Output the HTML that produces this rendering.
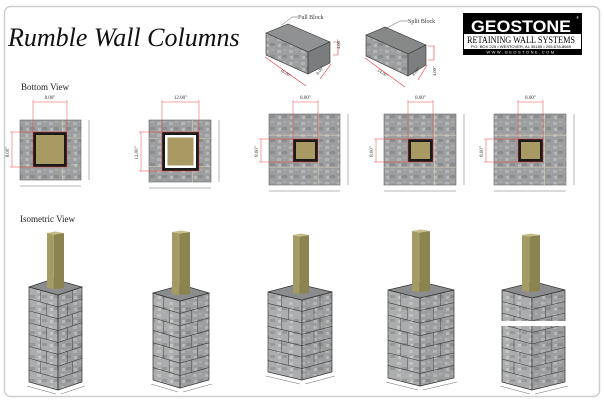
<!DOCTYPE html>
<html><head><meta charset="utf-8"><style>
html,body{margin:0;padding:0;background:#fff;}
svg{display:block;}
</style></head><body>
<svg id="s" width="604" height="403" viewBox="0 0 604 403" xmlns="http://www.w3.org/2000/svg" font-family="Liberation Serif, serif">
<defs>
<pattern id="stone" width="12" height="12" patternUnits="userSpaceOnUse">
<rect width="12" height="12" fill="#9c9e9f"/>
<rect x="1" y="2" width="4" height="3" fill="#b2b4b5"/>
<rect x="6" y="7" width="5" height="3" fill="#8a8c8d"/>
<rect x="7" y="1" width="3" height="2" fill="#a8aaab"/>
<rect x="2" y="8" width="3" height="3" fill="#b7b9b9"/>
</pattern>
<pattern id="stoneL" width="12" height="12" patternUnits="userSpaceOnUse">
<rect width="12" height="12" fill="#abadae"/>
<rect x="1" y="2" width="4" height="3" fill="#c0c2c2"/>
<rect x="6" y="7" width="5" height="3" fill="#979999"/>
<rect x="2" y="8" width="3" height="3" fill="#c4c6c6"/>
</pattern>
</defs>
<rect x="4.5" y="6.5" width="595" height="390" rx="6" fill="#fff" stroke="#cfcfcf" stroke-width="1.5"/>
<text x="8" y="46" font-size="26" font-style="italic" fill="#111">Rumble Wall Columns</text>
<text x="21" y="90" font-size="9" fill="#222">Bottom View</text>
<text x="20" y="222" font-size="9" fill="#222">Isometric View</text>

<!-- blocks -->
<g stroke="#333" stroke-width="0.6">
<polygon points="266,33 288,24 330,42 308,52" fill="#8f9192"/>
<polygon points="266,33 308,52 308,74 266,55" fill="url(#stone)"/>
<polygon points="308,52 330,42 330,63 308,74" fill="#7a7c7d"/>
<polygon points="366,35 385,27 426,45 408,54" fill="#878989"/>
<polygon points="366,35 408,54 408,76 366,56" fill="url(#stone)"/>
<polygon points="408,54 426,45 426,65 408,76" fill="#7c7e7f"/>
</g>
<g stroke="#e33" stroke-width="0.6" fill="none">
<path d="M265,57 L306,86 M331,64 L320,79 M333,42 L338,42 L338,55 L333,55"/>
<path d="M365,58 L405,87 M427,65 L418,80 M428,46 L434,46 L434,60 L428,60"/>
</g>
<g font-size="4.5" fill="#333">
<text x="280" y="71" transform="rotate(33 280 71)">16.00"</text>
<text x="318" y="75" transform="rotate(-50 318 75)">8.00"</text>
<text x="340" y="49" transform="rotate(-90 340 49)">4.00"</text>
<text x="377" y="71" transform="rotate(33 377 71)">14.00"</text>
<text x="414" y="76" transform="rotate(-50 414 76)">8.00"</text>
<text x="436" y="76" transform="rotate(-90 436 76)">4.00"</text>
</g>
<path d="M282,25 L292,17 L298,17 M385,29 L400,21 L408,21" stroke="#555" stroke-width="0.5" fill="none"/>
<text x="298" y="19" font-size="6" fill="#333">Full Block</text>
<text x="408" y="23" font-size="6" fill="#333">Split Block</text>

<!-- logo -->
<rect x="463" y="13" width="119" height="42" fill="#000"/>
<rect x="464" y="34" width="117" height="15" fill="#fff"/>
<text x="521" y="32" font-size="17" font-weight="bold" fill="#fff" text-anchor="middle" font-family="Liberation Sans, sans-serif" textLength="100" lengthAdjust="spacingAndGlyphs">GEOSTONE</text>
<text x="521" y="43" font-size="9" fill="#000" text-anchor="middle" textLength="108" lengthAdjust="spacingAndGlyphs">RETAINING WALL SYSTEMS</text>
<text x="521" y="48" font-size="4" fill="#000" text-anchor="middle" font-family="Liberation Sans, sans-serif" textLength="100" lengthAdjust="spacingAndGlyphs">P.O. BOX 225 • WESTOVER, AL 35185 • 205-678-8669</text>
<text x="521" y="53.5" font-size="4" fill="#fff" text-anchor="middle" font-family="Liberation Sans, sans-serif" letter-spacing="1.5">WWW.GEOSTONE.COM</text>
<text x="576" y="19" font-size="4" fill="#fff">®</text>

<g id="bv"></g>
<g id="iso"></g>
</svg>
<script>
var NS="http://www.w3.org/2000/svg";
function el(p,t,a){var e=document.createElementNS(NS,t);for(var k in a)e.setAttribute(k,a[k]);p.appendChild(e);return e;}
var bv=document.getElementById('bv');
var sq=[[20,120,81,180,33,132,67,167,"8.00\"",0],[149,120,211,182,162,132,199,171,"12.00\"",1],
[269,114,340,185,293,139,318,162,"8.00\"",0],[384,114,456,185,408,139,433,162,"8.00\"",0],[494,114,566,185,518,139,543,162,"8.00\"",0]];
sq.forEach(function(s,i){
 el(bv,'rect',{x:s[0],y:s[1],width:s[2]-s[0],height:s[3]-s[1],fill:'url(#stone)',stroke:'#666','stroke-width':0.6});
 var mx=(s[0]+s[2])/2,my=(s[1]+s[3])/2;
 el(bv,'path',{d:'M'+s[0]+','+(s[1]+ (s[3]-s[1])*0.3)+'H'+s[2]+'M'+(s[0]+(s[2]-s[0])*0.7)+','+s[1]+'V'+s[3]+'M'+s[0]+','+(s[1]+(s[3]-s[1])*0.75)+'H'+s[2],stroke:'#d8d0b8','stroke-width':0.8,fill:'none',opacity:0.7});
 el(bv,'rect',{x:s[4],y:s[5],width:s[6]-s[4],height:s[7]-s[5],fill:'#1a1a1a'});
 if(s[9]) el(bv,'rect',{x:s[4]+3,y:s[5]+3,width:s[6]-s[4]-6,height:s[7]-s[5]-6,fill:'#fff'});
 var q=s[9]?5.5:3;
 el(bv,'rect',{x:s[4]+q,y:s[5]+q,width:s[6]-s[4]-2*q,height:s[7]-s[5]-2*q,fill:'#a89a62'});
 var ty=98;
 el(bv,'path',{d:'M'+s[4]+','+(ty+2)+'V'+s[7]+'M'+s[6]+','+(ty+2)+'V'+s[7]+'M'+s[4]+','+(ty+4)+'H'+s[6]+'M'+(s[0]-10)+','+s[5]+'H'+s[6]+'M'+(s[0]-10)+','+s[7]+'H'+s[6]+'M'+(s[0]-8)+','+s[5]+'V'+s[7],stroke:'#e44','stroke-width':0.5,fill:'none'});
 el(bv,'text',{x:(s[4]+s[6])/2,y:ty+1,'font-size':5,'text-anchor':'middle',fill:'#333'}).textContent=s[8];
 var t=el(bv,'text',{x:s[0]-11,y:my+2,'font-size':5,'text-anchor':'middle',fill:'#333',transform:'rotate(-90 '+(s[0]-11)+' '+(my+2)+')'});t.textContent=s[8];
 el(bv,'path',{d:'M'+(s[2]+8)+','+s[1]+'V'+s[3]+'M'+s[0]+','+(s[3]+6)+'H'+s[2],stroke:'#444','stroke-width':0.4,fill:'none'});
});
var iso=document.getElementById('iso');
var cols=[[29,58,82,287,95,47,64,233,0],[153,180,209,293,87,172,190,232,0],[268,302,332,292,80,293,309,235,0],[388,420,454,290,88,412,430,231,0],[502,532,565,290,92,522,540,235,323]];
cols.forEach(function(c){
 var L=c[0],F=c[1],R=c[2],T=c[3],H=c[4],d=8,B=L+R-F;
 el(iso,'polygon',{points:[L,T,F,T+d,F,T+d+H,L,T+H].join(','),fill:'url(#stoneL)',stroke:'#333','stroke-width':0.7});
 el(iso,'polygon',{points:[F,T+d,R,T,R,T+H,F,T+d+H].join(','),fill:'url(#stone)',stroke:'#333','stroke-width':0.7});
 var n=Math.round(H/12);
 for(var i=1;i<n;i++){var y=T+H*i/n;
  el(iso,'path',{d:'M'+L+','+y+'L'+F+','+(y+d)+'L'+R+','+y,stroke:'#3a3a3a','stroke-width':0.6,fill:'none'});
  var off=(i%2)?0.4:0.6;
  var xa=L+(F-L)*off, xb=F+(R-F)*(1-off), y0=T+H*(i-1)/n;
  el(iso,'path',{d:'M'+xa+','+(y0+d*off)+'V'+(y+d*off)+'M'+xb+','+(y0+d*off)+'V'+(y+d*off),stroke:'#444','stroke-width':0.5,fill:'none'});
 }
 if(c[8]){el(iso,'rect',{x:L-2,y:c[8]-2,width:R-L+4,height:5,fill:'#fff'});}
 el(iso,'polygon',{points:[L,T,B,T-d,R,T,F,T+d].join(','),fill:'#8a8c8d',stroke:'#333','stroke-width':0.7});
 var px0=c[5],px1=c[6],pm=px0+(px1-px0)*0.4,pt=c[7],pb=T+2;
 el(iso,'polygon',{points:[px0,pt,pm,pt+1.5,pm,pb,px0,pb-1].join(','),fill:'#a39a64'});
 el(iso,'polygon',{points:[pm,pt+1.5,px1,pt,px1,pb-1,pm,pb].join(','),fill:'#8c8450'});
 el(iso,'polygon',{points:[px0,pt,(px0+px1)/2,pt-1.5,px1,pt,pm,pt+1.5].join(','),fill:'#c8bd86'});
 el(iso,'path',{d:'M'+(L-2)+','+(T+H+4)+'L'+(F-2)+','+(T+H+d+4)+'M'+(F+3)+','+(T+H+d+4)+'L'+(R+3)+','+(T+H+4),stroke:'#444','stroke-width':0.4,fill:'none'});
});
</script>
</body></html>
